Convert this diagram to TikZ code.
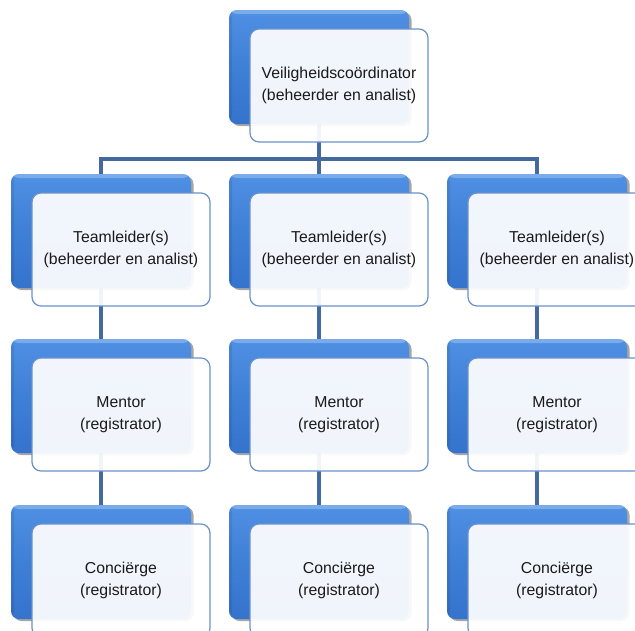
\documentclass[tikz,border=0pt]{standalone}
\usepackage{fontspec}
\setmainfont{Liberation Sans}
\usetikzlibrary{shadows}
\pgfdeclarelayer{background}
\pgfsetlayers{background,main}

\definecolor{conncol}{HTML}{44699E}
\definecolor{blueTop}{HTML}{4F90E3}
\definecolor{blueMid}{HTML}{3F80D7}
\definecolor{blueBot}{HTML}{3573CC}
\definecolor{bordercol}{HTML}{6B91CB}
\definecolor{textcol}{HTML}{1A1A1A}

\begin{document}
\begin{tikzpicture}[x=1pt,y=-1pt,
  conn/.style={draw=conncol,line width=4.5pt},
  bluebox/.style={rounded corners=8pt,minimum width=180pt,minimum height=114pt,
    inner sep=0pt,outer sep=0pt,
    top color=blueTop,bottom color=blueBot,middle color=blueMid,
    drop shadow={shadow xshift=2.5pt,shadow yshift=-2pt,opacity=0.35,fill=black},
    path picture={
      \fill[white,opacity=0.25] (path picture bounding box.north west)
        rectangle ([yshift=-4pt]path picture bounding box.north east);
      \fill[black,opacity=0.08] (path picture bounding box.north west)
        rectangle ([xshift=3pt]path picture bounding box.south west);}},
  whitebox/.style={rounded corners=9pt,minimum width=178pt,minimum height=113pt,
    inner sep=0pt,outer sep=0pt,draw=bordercol,line width=1.2pt,
    fill=white,fill opacity=0.93,draw opacity=1,text opacity=1,
    align=center,text=textcol,font=\fontsize{15.8}{22.5}\selectfont}
]
\useasboundingbox (0,0) rectangle (635,630);
\clip (0,0) rectangle (635,630);

% top level
\node[bluebox] (b0) at (319,67) {};
\node[whitebox] (w0) at (339,85.5) {Veiligheidscoördinator\\(beheerder en analist)};

% team leaders
\node[bluebox] (b11) at (101,231) {};
\node[whitebox] (w11) at (121,249.5) {Teamleider(s)\\(beheerder en analist)};
\node[bluebox] (b12) at (319,231) {};
\node[whitebox] (w12) at (339,249.5) {Teamleider(s)\\(beheerder en analist)};
\node[bluebox] (b13) at (537,231) {};
\node[whitebox] (w13) at (557,249.5) {Teamleider(s)\\(beheerder en analist)};

% mentors
\node[bluebox] (b21) at (101,396) {};
\node[whitebox] (w21) at (121,414.5) {Mentor\\(registrator)};
\node[bluebox] (b22) at (319,396) {};
\node[whitebox] (w22) at (339,414.5) {Mentor\\(registrator)};
\node[bluebox] (b23) at (537,396) {};
\node[whitebox] (w23) at (557,414.5) {Mentor\\(registrator)};

% caretakers
\node[bluebox] (b31) at (101,562) {};
\node[whitebox] (w31) at (121,580.5) {Conciërge\\(registrator)};
\node[bluebox] (b32) at (319,562) {};
\node[whitebox] (w32) at (339,580.5) {Conciërge\\(registrator)};
\node[bluebox] (b33) at (537,562) {};
\node[whitebox] (w33) at (557,580.5) {Conciërge\\(registrator)};

% connectors behind the boxes
\coordinate (bus) at (319,159);
\begin{pgfonlayer}{background}
  \fill[white] (0,0) rectangle (635,630);
  \draw[conn] (b0.center) -- (bus);
  \draw[conn] (b11.center) |- (bus) -| (b13.center);
  \draw[conn] (bus) -- (b12.center);
  \draw[conn] (b11.center) -- (b21.center) -- (b31.center);
  \draw[conn] (b12.center) -- (b22.center) -- (b32.center);
  \draw[conn] (b13.center) -- (b23.center) -- (b33.center);
\end{pgfonlayer}
\end{tikzpicture}
\end{document}
